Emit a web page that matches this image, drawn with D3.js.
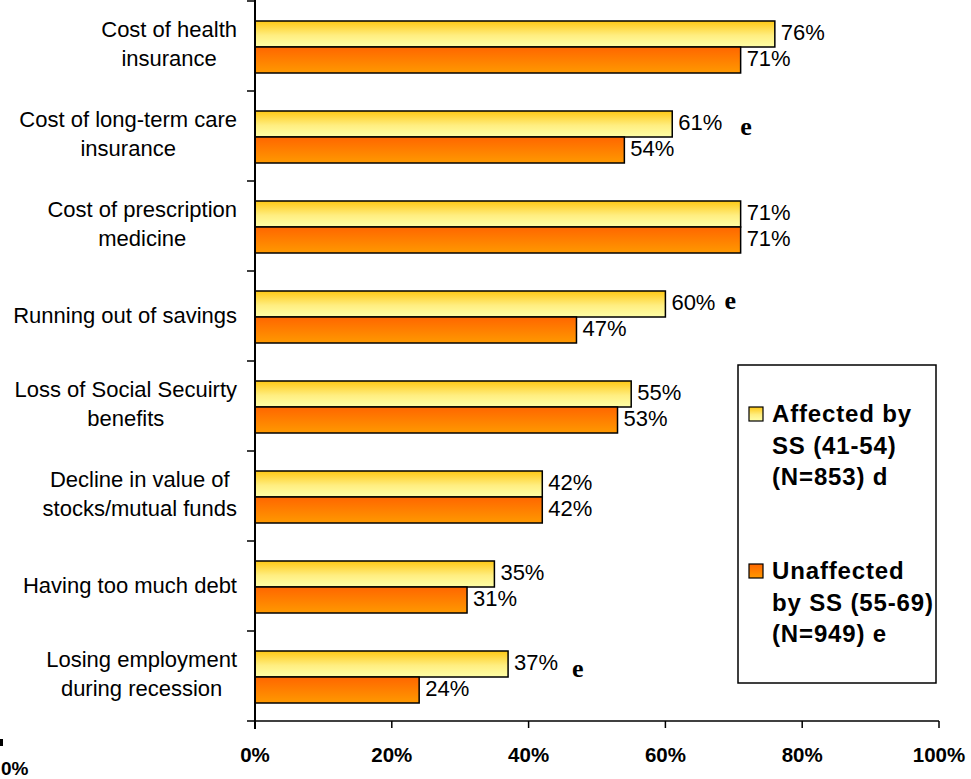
<!DOCTYPE html>
<html>
<head>
<meta charset="utf-8">
<script src="https://cdn.jsdelivr.net/npm/d3@7/dist/d3.min.js"></script>
<style>
  html, body { margin: 0; padding: 0; background: #fff; }
  svg { display: block; }
</style>
</head>
<body>
<svg id="chart" width="971" height="779"></svg>
<script>
// Worries about retirement, by Social Security group
const categories = [
  ["Cost of health", "insurance"],
  ["Cost of long-term care", "insurance"],
  ["Cost of prescription", "medicine"],
  ["Running out of savings"],
  ["Loss of Social Secuirty", "benefits"],
  ["Decline in value of", "stocks/mutual funds"],
  ["Having too much debt"],
  ["Losing employment", "during recession"]
];
const affected   = [76, 61, 71, 60, 55, 42, 35, 37];
const unaffected = [71, 54, 71, 47, 53, 42, 31, 24];
const seriesNames = [
  ["Affected by", "SS (41-54)", "(N=853) d"],
  ["Unaffected", "by SS (55-69)", "(N=949) e"]
];
// significance markers placed after the affected-group label
const marks = [null, "e", null, "e", null, null, null, "e"];
const xTicks = [0, 20, 40, 60, 80, 100];

// layout
const svg = d3.select("#chart");
const plotLeft = 255, plotRight = 939, plotTop = 1, plotBottom = 721;
const barH = 26, barOff = 20;
const font = "Liberation Sans, Arial, sans-serif";
// hand-placed nudges for the significance markers: [dx from bar end, dy from bar centre]
const markNudge = { 1: [68, 11], 3: [59, 5], 7: [64, 13] };

const x = d3.scaleLinear().domain([0, 100]).range([plotLeft, plotRight]);
const y = d3.scaleBand().domain(d3.range(categories.length)).range([plotTop, plotBottom]);

const defs = svg.append("defs");
const g1 = defs.append("linearGradient").attr("id", "gYellow").attr("x1", 0).attr("y1", 0).attr("x2", 0).attr("y2", 1);
g1.append("stop").attr("offset", "0%").attr("stop-color", "#FFC814");
g1.append("stop").attr("offset", "55%").attr("stop-color", "#FFEE80");
g1.append("stop").attr("offset", "100%").attr("stop-color", "#FFFFA8");
const g2 = defs.append("linearGradient").attr("id", "gOrange").attr("x1", 0).attr("y1", 0).attr("x2", 0).attr("y2", 1);
g2.append("stop").attr("offset", "0%").attr("stop-color", "#FF6600");
g2.append("stop").attr("offset", "100%").attr("stop-color", "#FF9900");

// bars
const rows = svg.append("g").selectAll("g").data(categories).join("g");
rows.append("rect")
  .attr("x", x(0)).attr("y", (d, i) => y(i) + barOff)
  .attr("width", (d, i) => x(affected[i]) - x(0)).attr("height", barH)
  .attr("fill", "url(#gYellow)").attr("stroke", "#000").attr("stroke-width", 1.5);
rows.append("rect")
  .attr("x", x(0)).attr("y", (d, i) => y(i) + barOff + barH)
  .attr("width", (d, i) => x(unaffected[i]) - x(0)).attr("height", barH)
  .attr("fill", "url(#gOrange)").attr("stroke", "#000").attr("stroke-width", 1.5);

// value labels
rows.append("text")
  .attr("x", (d, i) => x(affected[i]) + 6).attr("y", (d, i) => y(i) + barOff + barH / 2 + 6)
  .attr("font-family", font).attr("font-size", 22).attr("fill", "#000")
  .text((d, i) => affected[i] + "%");
rows.append("text")
  .attr("x", (d, i) => x(unaffected[i]) + 6).attr("y", (d, i) => y(i) + barOff + barH * 1.5 + 6)
  .attr("font-family", font).attr("font-size", 22).attr("fill", "#000")
  .text((d, i) => unaffected[i] + "%");

// significance markers
rows.each(function (d, i) {
  if (!marks[i]) return;
  d3.select(this).append("text")
    .attr("x", x(affected[i]) + markNudge[i][0])
    .attr("y", y(i) + barOff + barH / 2 + markNudge[i][1])
    .attr("font-family", "Liberation Serif, Times New Roman, serif").attr("font-weight", "bold")
    .attr("font-size", 26).attr("fill", "#000")
    .text(marks[i]);
});

// category labels: lines centred within a right-aligned block
rows.each(function (lines, i) {
  const grp = d3.select(this).append("g");
  const cy = y(i) + y.bandwidth() / 2;
  const lh = 29;
  const shift = lines.length > 1 ? -3 : -1;
  const t = grp.selectAll("text").data(lines).join("text")
    .attr("font-family", font).attr("font-size", 22).attr("fill", "#000")
    .attr("text-anchor", "middle")
    .attr("y", (l, k) => cy + shift - (lines.length - 1) * lh / 2 + k * lh + 8)
    .text(l => l);
  let w = 0;
  t.each(function () { w = Math.max(w, this.getComputedTextLength()); });
  t.attr("x", 237 - w / 2);
});

// axes
const axisG = svg.append("g").attr("stroke", "#000");
axisG.append("line").attr("x1", plotLeft).attr("x2", plotLeft).attr("y1", 0).attr("y2", plotBottom + 8).attr("stroke-width", 2);
axisG.append("line").attr("x1", plotLeft - 8).attr("x2", plotRight).attr("y1", plotBottom).attr("y2", plotBottom).attr("stroke-width", 1.5);
d3.range(categories.length).forEach(i => {
  axisG.append("line").attr("x1", plotLeft - 8).attr("x2", plotLeft).attr("y1", y(i)).attr("y2", y(i)).attr("stroke-width", 1.5);
});
xTicks.forEach(v => {
  axisG.append("line").attr("x1", x(v)).attr("x2", x(v)).attr("y1", plotBottom).attr("y2", plotBottom + 7).attr("stroke-width", 1.5);
});
svg.append("g").selectAll("text").data(xTicks).join("text")
  .attr("x", d => x(d)).attr("y", 762)
  .attr("text-anchor", "middle")
  .attr("font-family", font).attr("font-weight", "bold").attr("font-size", 20.5)
  .text(d => d + "%");

// fragment of a neighbouring axis at the lower-left edge
svg.append("rect").attr("x", 0).attr("y", 739).attr("width", 3).attr("height", 7).attr("fill", "#000");
svg.append("text").attr("x", 1).attr("y", 775)
  .attr("font-family", font).attr("font-weight", "bold").attr("font-size", 19)
  .text("0%");

// legend
const lg = svg.append("g");
lg.append("rect").attr("x", 738).attr("y", 365).attr("width", 198).attr("height", 318)
  .attr("fill", "#fff").attr("stroke", "#000").attr("stroke-width", 1.5);
const legendFill = ["url(#gYellow)", "url(#gOrange)"];
const legendTop = [422, 579];
seriesNames.forEach((lines, s) => {
  lg.append("rect").attr("x", 749).attr("y", legendTop[s] - 15).attr("width", 14).attr("height", 14)
    .attr("fill", legendFill[s]).attr("stroke", "#000").attr("stroke-width", 1.2);
  lg.append("g").selectAll("text").data(lines).join("text")
    .attr("x", 772).attr("y", (l, k) => legendTop[s] + k * 31.5)
    .attr("font-family", font).attr("font-weight", "bold").attr("font-size", 24)
    .attr("letter-spacing", 0.85)
    .text(l => l);
});
</script>
</body>
</html>
